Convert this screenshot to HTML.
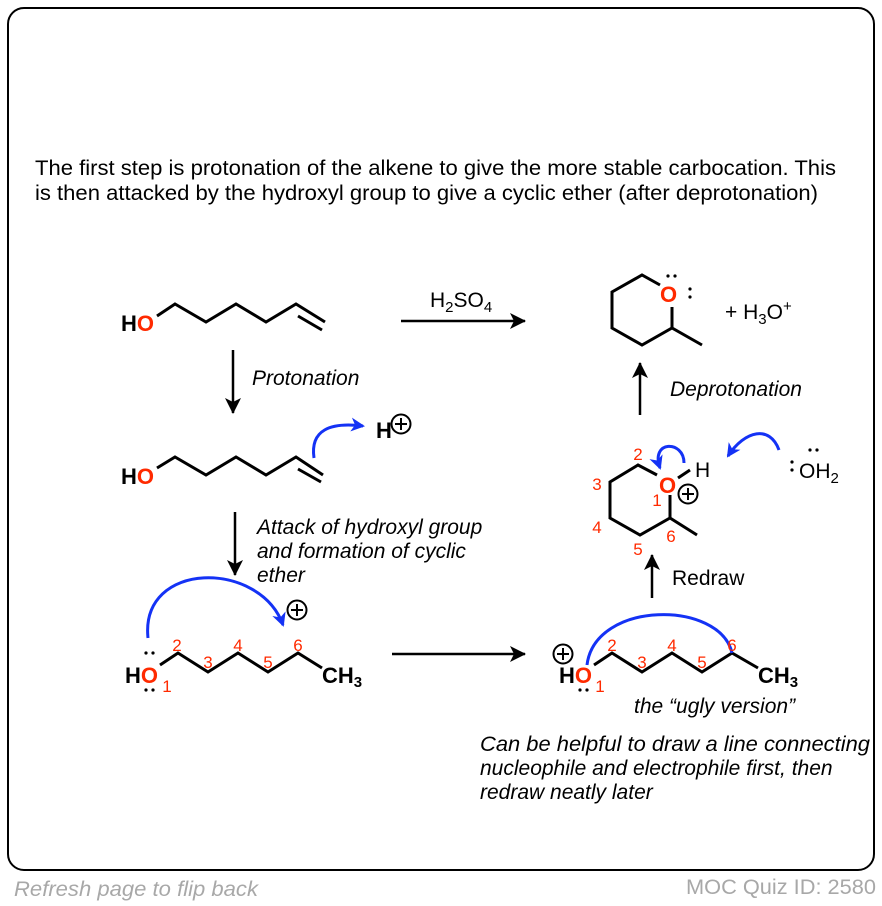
<!DOCTYPE html><html><head><style>body{margin:0;background:#fff}svg{display:block}text{font-family:"Liberation Sans",sans-serif}</style></head><body>
<svg width="882" height="906" viewBox="0 0 882 906" xmlns="http://www.w3.org/2000/svg">
<defs>
<marker id="bh" markerWidth="14" markerHeight="14" refX="12" refY="7" orient="auto" markerUnits="userSpaceOnUse"><path d="M0,0 L14,7 L0,14 L4,7Z" fill="#1432f5"/></marker>
<marker id="kh" markerWidth="16" markerHeight="16" refX="15" refY="8" orient="auto" markerUnits="userSpaceOnUse"><path d="M0,0 L16,8 L0,16 L4,8Z" fill="#000"/></marker></defs>
<rect x="8" y="8" width="866" height="862" rx="16" fill="none" stroke="#000" stroke-width="2"/>
<text x="35" y="175" font-size="21" textLength="801" lengthAdjust="spacingAndGlyphs">The first step is protonation of the alkene to give the more stable carbocation. This</text>
<text x="35" y="200" font-size="21" textLength="783" lengthAdjust="spacingAndGlyphs">is then attacked by the hydroxyl group to give a cyclic ether (after deprotonation)</text>
<g stroke="#000" stroke-width="3" fill="none">
<polyline points="157,316 175,304 206,322 236,304 266,322 296,304 325,322"/><line x1="298" y1="316" x2="322" y2="330"/>
<polyline points="157,468 175,457 206,475 236,457 266,475 296,457 323,475"/><line x1="298" y1="469" x2="321" y2="482"/>
<polyline points="160,665 178,653 208,672 238,653 268,672 298,653 322,668"/>
<polyline points="594,665 612,653 642,672 672,653 702,672 732,653 758,668"/>
<polyline points="660,285 642,275 612,292 612,328 642,345 672,328 702,345"/><line x1="672" y1="307" x2="672" y2="328"/>
<polyline points="657,475 638,465 610,482 610,518 640,535 670,518 697,535"/><line x1="670" y1="495" x2="670" y2="518"/><line x1="678" y1="478" x2="690" y2="470"/>
</g>
<g stroke="#000" stroke-width="2.5">
<line x1="233" y1="350" x2="233" y2="413" marker-end="url(#kh)"/>
<line x1="235" y1="512" x2="235" y2="575" marker-end="url(#kh)"/>
<line x1="401" y1="321" x2="525" y2="321" marker-end="url(#kh)"/>
<line x1="392" y1="654" x2="525" y2="654" marker-end="url(#kh)"/>
<line x1="640" y1="415" x2="640" y2="363" marker-end="url(#kh)"/>
<line x1="652" y1="598" x2="652" y2="555" marker-end="url(#kh)"/>
</g>
<g stroke="#1432f5" stroke-width="3" fill="none">
<path d="M314,458 C310,430 330,422 363,426" marker-end="url(#bh)"/>
<path d="M148,638 C140,560 260,560 283,625" marker-end="url(#bh)"/>
<path d="M587,665 C595,600 720,600 732,653"/>
<path d="M684,463 C684,440 650,440 660,468" marker-end="url(#bh)"/>
<path d="M779,450 C770,425 745,430 728,456" marker-end="url(#bh)"/>
</g>
<g font-weight="bold" font-size="22">
<text x="121" y="331">H<tspan fill="#ff2a00">O</tspan></text>
<text x="121" y="484">H<tspan fill="#ff2a00">O</tspan></text>
<text x="125" y="683">H<tspan fill="#ff2a00">O</tspan></text>
<text x="559" y="683">H<tspan fill="#ff2a00">O</tspan></text>
<text x="322" y="683">CH<tspan font-size="15" dy="4">3</tspan></text>
<text x="758" y="683">CH<tspan font-size="15" dy="4">3</tspan></text>
<text x="376" y="438">H</text>
<text x="660" y="302" fill="#ff2a00">O</text>
<text x="659" y="493" fill="#ff2a00">O</text>
</g>
<g fill="#000"><circle cx="146" cy="653" r="1.6"/><circle cx="153" cy="653" r="1.6"/><circle cx="146" cy="690" r="1.6"/><circle cx="153" cy="690" r="1.6"/><circle cx="580" cy="690" r="1.6"/><circle cx="587" cy="690" r="1.6"/>
<circle cx="668" cy="276" r="1.6"/><circle cx="675" cy="276" r="1.6"/><circle cx="690" cy="289" r="1.6"/><circle cx="690" cy="297" r="1.6"/>
<circle cx="810" cy="450" r="1.6"/><circle cx="817" cy="450" r="1.6"/><circle cx="792" cy="462" r="1.6"/><circle cx="792" cy="470" r="1.6"/></g>
<g fill="none" stroke="#000" stroke-width="2"><circle cx="401" cy="424" r="9.5"/><circle cx="297" cy="610" r="9.5"/><circle cx="563" cy="654" r="9.5"/><circle cx="688" cy="494" r="9.5"/></g>
<g stroke="#000" stroke-width="2"><path d="M395,424h12M401,418v12"/><path d="M291,610h12M297,604v12"/><path d="M557,654h12M563,648v12"/><path d="M682,494h12M688,488v12"/></g>
<g font-size="21">
<text x="430" y="307">H<tspan font-size="15" dy="5">2</tspan><tspan dy="-5">SO</tspan><tspan font-size="15" dy="5">4</tspan></text>
<text x="725" y="319">+ H<tspan font-size="15" dy="5">3</tspan><tspan dy="-5">O</tspan><tspan font-size="15" dy="-8">+</tspan></text>
<text x="695" y="477">H</text>
<text x="799" y="478">OH<tspan font-size="15" dy="5">2</tspan></text>
<text x="672" y="585">Redraw</text>
</g>
<g font-size="21" font-style="italic">
<text x="252" y="385">Protonation</text>
<text x="670" y="396">Deprotonation</text>
<text x="257" y="534">Attack of hydroxyl group</text><text x="257" y="558">and formation of cyclic</text><text x="257" y="582">ether</text>
<text x="634" y="713">the “ugly version”</text>
<text x="480" y="751" textLength="390" lengthAdjust="spacingAndGlyphs">Can be helpful to draw a line connecting</text><text x="480" y="775">nucleophile and electrophile first, then</text><text x="480" y="799">redraw neatly later</text>
</g>
<g font-size="17" fill="#ff2a00" text-anchor="middle">
<text x="177" y="651">2</text><text x="208" y="668">3</text><text x="238" y="651">4</text><text x="268" y="668">5</text><text x="298" y="651">6</text><text x="167" y="692">1</text>
<text x="612" y="651">2</text><text x="642" y="668">3</text><text x="672" y="651">4</text><text x="702" y="668">5</text><text x="732" y="651">6</text><text x="600" y="692">1</text>
<text x="638" y="460">2</text><text x="597" y="490">3</text><text x="597" y="533">4</text><text x="638" y="555">5</text><text x="671" y="542">6</text><text x="657" y="506">1</text>
</g>
<text x="14" y="896" font-size="21" font-style="italic" fill="#a8a8a8" textLength="244" lengthAdjust="spacingAndGlyphs">Refresh page to flip back</text>
<text x="686" y="894" font-size="21" fill="#a8a8a8" textLength="190" lengthAdjust="spacingAndGlyphs">MOC Quiz ID: 2580</text>
</svg></body></html>
